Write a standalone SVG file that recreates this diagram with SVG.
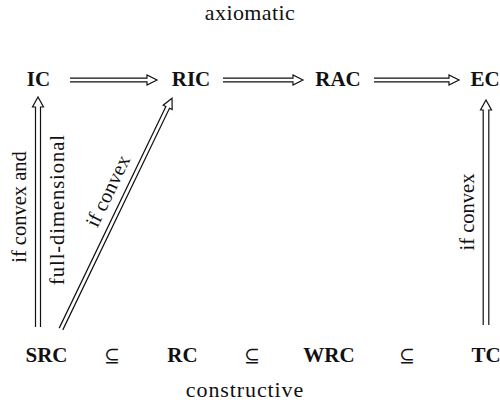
<svg xmlns="http://www.w3.org/2000/svg" width="500" height="410" viewBox="0 0 500 410">
<style>
.t{font-family:"Liberation Serif","Times New Roman",serif;fill:#111;}
.n{font-size:21px;font-weight:bold;text-anchor:middle;}
.h{font-size:22px;text-anchor:middle;}
.l{font-size:20.5px;text-anchor:middle;}
.s{font-family:"DejaVu Serif",serif;font-size:19px;text-anchor:middle;fill:#111;}
.a{fill:none;stroke:#111;stroke-width:1.2;stroke-linejoin:miter;}
</style>
<rect width="500" height="410" fill="#fff"/>
<text class="t h" x="250" y="20" letter-spacing="0.4">axiomatic</text>
<text class="t h" x="245" y="397" letter-spacing="0.9">constructive</text>
<g id="IC"><text class="t n" x="38.5" y="86">IC</text></g>
<g id="RIC"><text class="t n" x="191" y="86">RIC</text></g>
<g id="RAC"><text class="t n" x="338" y="86">RAC</text></g>
<g id="EC"><text class="t n" x="485" y="86">EC</text></g>
<g id="SRC"><text class="t n" x="46.5" y="362">SRC</text></g>
<g id="RC"><text class="t n" x="182.5" y="362">RC</text></g>
<g id="WRC"><text class="t n" x="329" y="362">WRC</text></g>
<g id="TC"><text class="t n" x="486" y="362">TC</text></g>
<g id="subsets">
<text class="s" x="112" y="362">⊆</text>
<text class="s" x="252" y="362">⊆</text>
<text class="s" x="407" y="362">⊆</text>
</g>
<g id="connectors">
<path class="a" transform="translate(70,80)" d="M0,-1.8 H77 V-5 L87,0 L77,5 V1.8 H0"/>
<path class="a" transform="translate(223,80)" d="M0,-1.8 H70 V-5 L80,0 L70,5 V1.8 H0"/>
<path class="a" transform="translate(374,80)" d="M0,-1.8 H75 V-5 L85,0 L75,5 V1.8 H0"/>
<path class="a" transform="translate(38,327) rotate(-90)" d="M0,-2.5 H220 V-5.5 L230,0 L220,5.5 V2.5 H0"/>
<path class="a" transform="translate(61,329) rotate(-64.3)" d="M0,-2 H246 V-5 L256,0 L246,5 V2 H0"/>
<path class="a" transform="translate(486,325) rotate(-90)" d="M0,-2.8 H215 V-5.5 L225,0 L215,5.5 V2.8 H0"/>
</g>
<g id="labels">
<text class="t l" transform="translate(26,207) rotate(-90)">if convex and</text>
<text class="t l" transform="translate(64,210) rotate(-90)" textLength="150" lengthAdjust="spacing">full-dimensional</text>
<text class="t l" transform="translate(114,194) rotate(-64.3)">if convex</text>
<text class="t l" transform="translate(474,212) rotate(-90)">if convex</text>
</g>
</svg>
